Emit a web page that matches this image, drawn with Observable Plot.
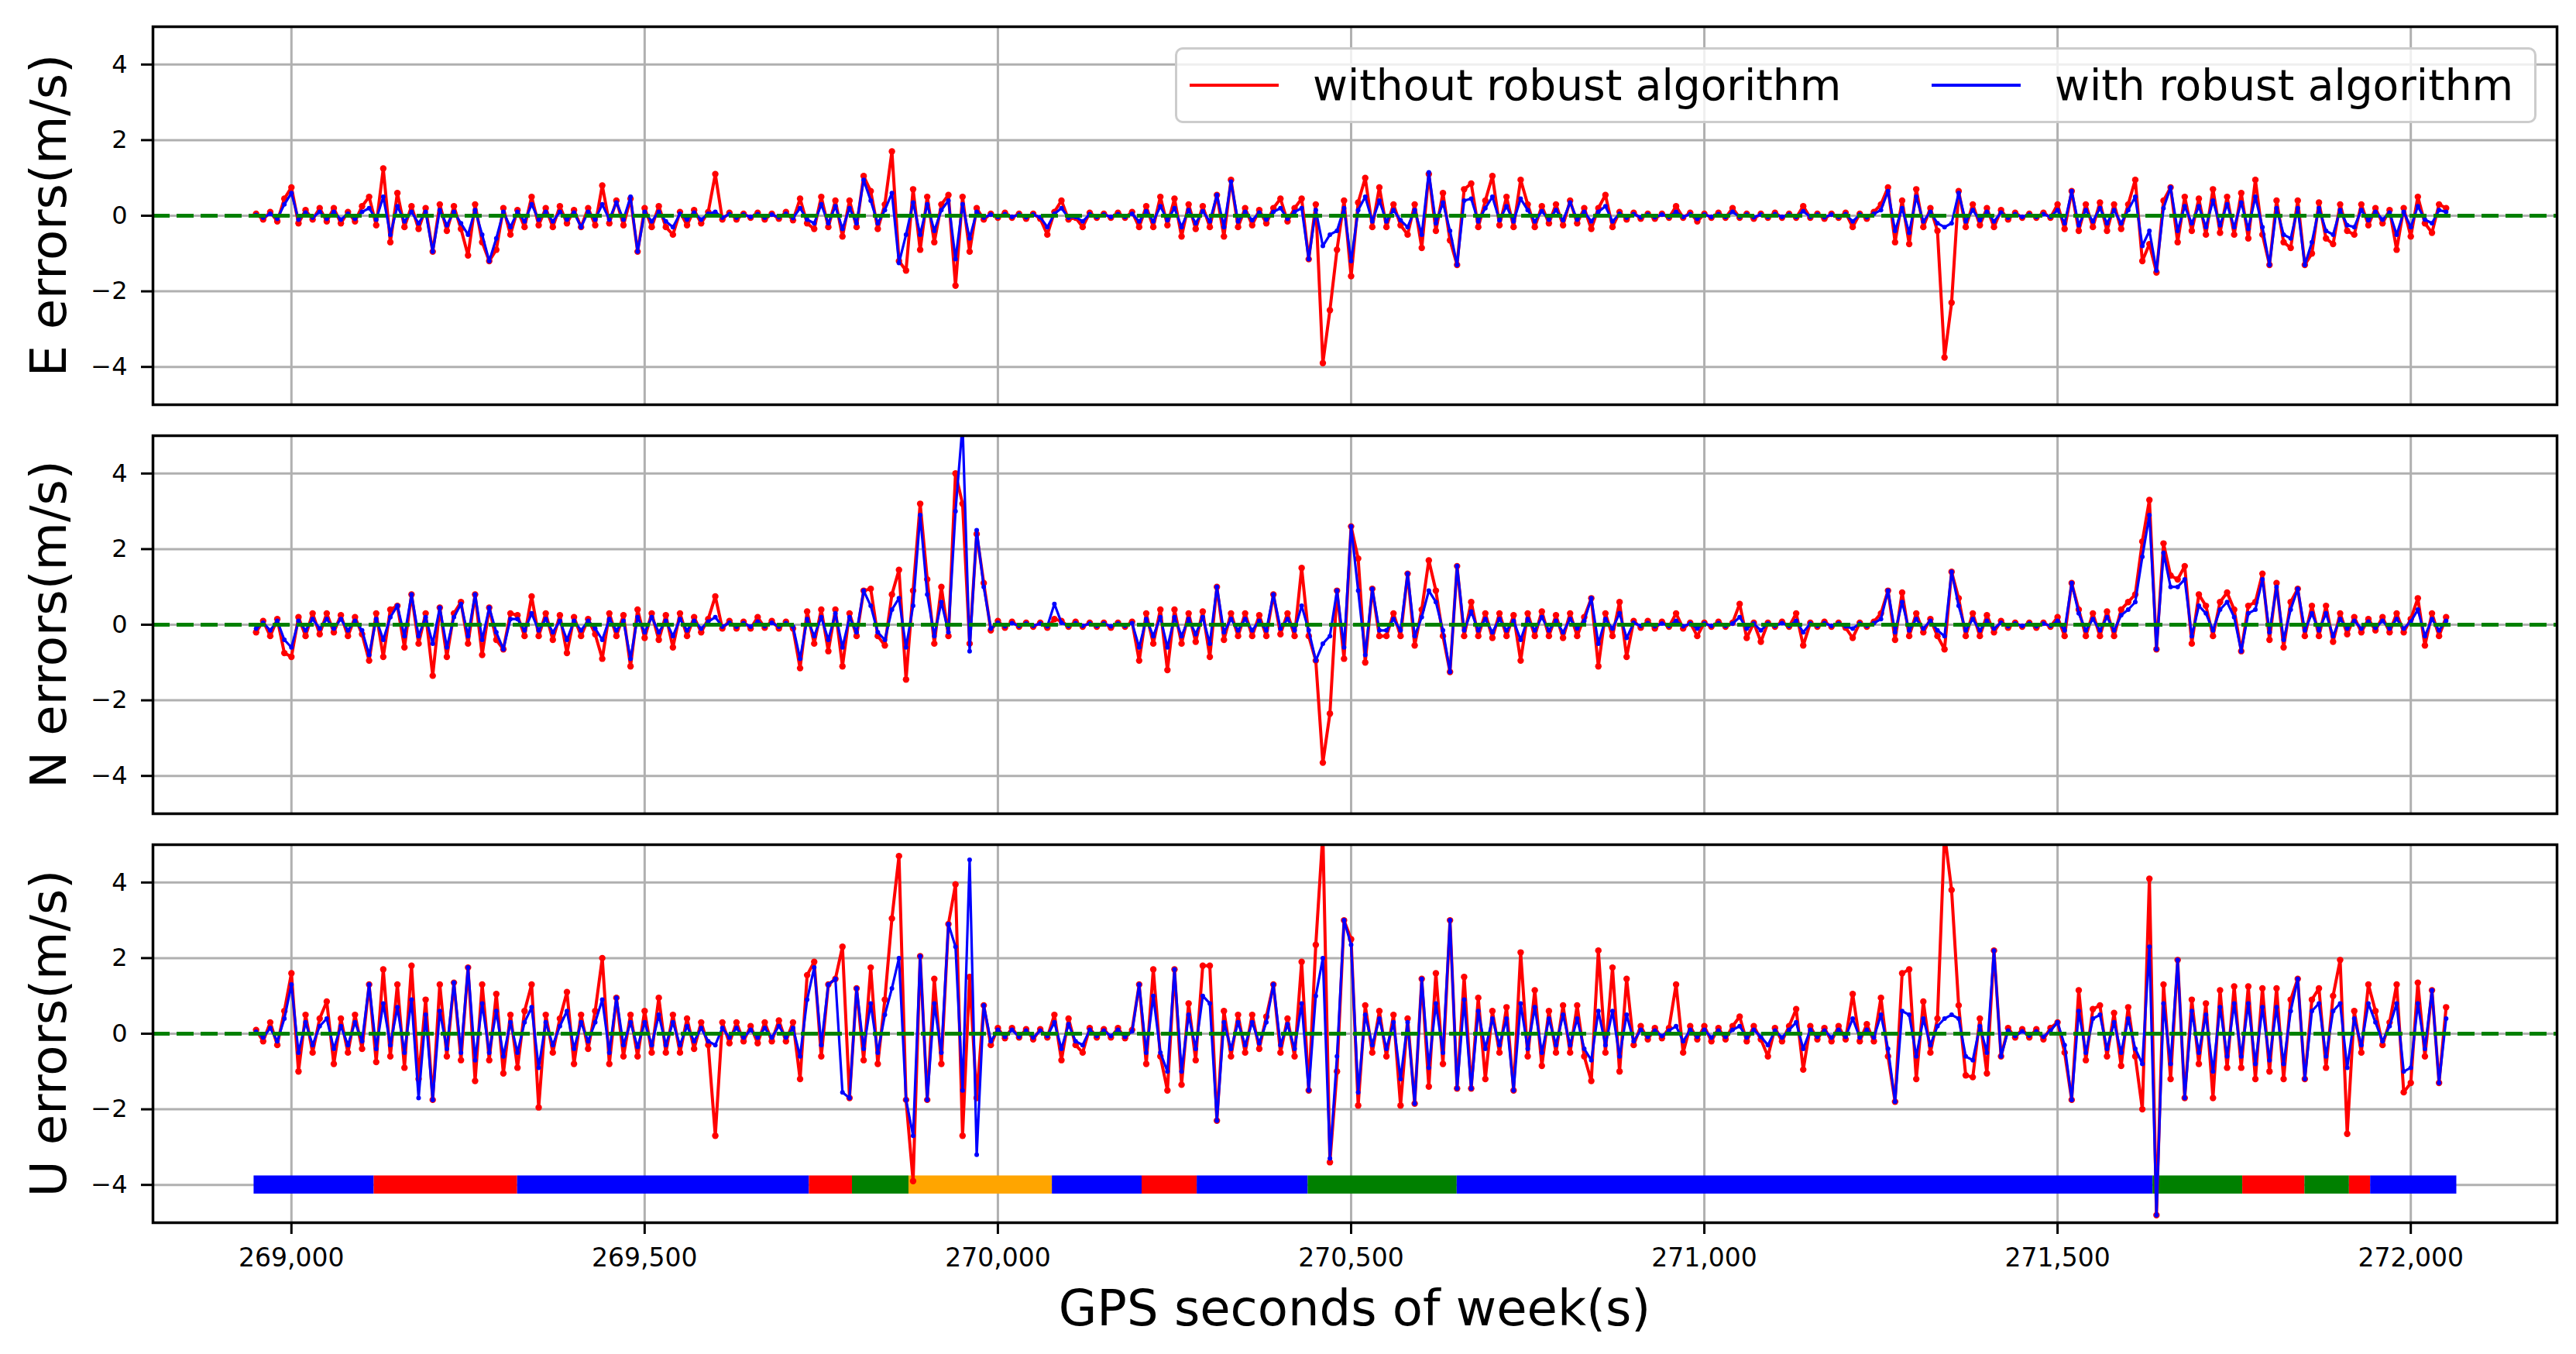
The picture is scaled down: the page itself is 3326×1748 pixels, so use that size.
<!DOCTYPE html>
<html>
<head>
<meta charset="utf-8">
<script src="https://cdn.jsdelivr.net/npm/d3@7"></script>
<script src="https://cdn.jsdelivr.net/npm/@observablehq/plot@0.6"></script>
<style>
  html, body { margin: 0; padding: 0; background: #fff; }
  body { font-family: "DejaVu Sans", sans-serif; }
  #wrap { position: relative; width: 3326px; height: 1748px; overflow: hidden; }
  .panel { position: absolute; left: 0; }
  .ylab { position: absolute; left: 63px; font-size: 64px; line-height: 1; white-space: nowrap;
          transform: translate(-50%, -50%) rotate(-90deg); color: #000; }
  .xlab { position: absolute; left: 0; width: 3498px; text-align: center; font-size: 64px; line-height: 1; color: #000; }
  .legend { position: absolute; left: 1517px; top: 61px; width: 1752px; height: 92px;
            border: 3px solid #cccccc; border-radius: 10px; background: rgba(255,255,255,0.8); }
  .lg-item { position: absolute; top: 0; height: 92px; display: flex; align-items: center; font-size: 55px; color: #000; white-space: nowrap; }
  .lg-sw { display: inline-block; width: 115px; height: 4px; margin-right: 44px; }
</style>
</head>
<body>
<div id="wrap"></div>
<script>
// ---------------- data ----------------
const startTime = 268950;   // first epoch (GPS seconds of week)
const stepSeconds = 10;     // sampling of values

const eWithout = [
  0.05,-0.1,0.1,-0.15,0.45,0.75,-0.2,0.15,-0.1,0.2,
  -0.15,0.2,-0.2,0.1,-0.15,0.25,0.5,-0.25,1.25,-0.7,
  0.6,-0.3,0.25,-0.35,0.2,-0.95,0.3,-0.4,0.25,-0.35,
  -1.05,0.3,-0.7,-1.2,-0.9,0.2,-0.5,0.15,-0.3,0.5,
  -0.25,0.2,-0.3,0.25,-0.2,0.15,-0.3,0.2,-0.25,0.8,
  -0.2,0.4,-0.25,0.45,-0.95,0.2,-0.3,0.25,-0.3,-0.5,
  0.1,-0.25,0.15,-0.2,0.1,1.1,-0.1,0.08,-0.1,0.05,
  -0.05,0.08,-0.1,0.05,-0.08,0.1,-0.12,0.45,-0.2,-0.35,
  0.5,-0.3,0.4,-0.55,0.4,-0.3,1.05,0.65,-0.35,0.3,
  1.7,-1.2,-1.45,0.7,-0.9,0.5,-0.7,0.3,0.55,-1.85,
  0.5,-0.95,0.2,-0.1,0.05,-0.05,0.08,-0.05,0.05,-0.08,
  0.05,-0.08,-0.5,0.1,0.4,-0.1,-0.05,-0.3,0.08,-0.05,
  0.05,-0.05,0.08,-0.05,0.1,-0.3,0.25,-0.3,0.5,-0.25,
  0.45,-0.55,0.3,-0.35,0.25,-0.3,0.55,-0.55,0.95,-0.3,
  0.2,-0.25,0.15,-0.2,0.2,0.45,-0.15,0.2,0.45,-1.15,
  0.3,-3.9,-2.5,-0.9,0.4,-1.6,0.35,1.0,-0.3,0.75,
  -0.3,0.3,-0.25,-0.5,0.3,-0.85,1.1,-0.4,0.6,-0.65,
  -1.3,0.7,0.85,-0.3,0.4,1.05,-0.25,0.5,-0.3,0.95,
  0.3,-0.3,0.25,-0.2,0.3,-0.25,0.4,-0.2,0.2,-0.35,
  0.2,0.55,-0.3,0.1,-0.1,0.08,-0.08,0.05,-0.08,0.05,
  -0.05,0.25,-0.05,0.08,-0.15,0.05,-0.05,0.08,-0.05,0.2,
  -0.05,0.05,-0.08,0.05,-0.05,0.08,-0.05,0.05,-0.05,0.25,
  -0.05,0.05,-0.08,0.05,-0.05,0.08,-0.3,0.05,-0.08,0.1,
  0.3,0.75,-0.7,0.4,-0.75,0.7,-0.3,0.2,-0.4,-3.75,
  -2.3,0.65,-0.3,0.3,-0.25,0.2,-0.3,0.15,-0.1,0.08,
  -0.05,0.05,-0.05,0.08,-0.05,0.3,-0.35,0.65,-0.4,0.3,
  -0.3,0.35,-0.4,0.3,-0.35,0.3,0.95,-1.2,-0.75,-1.5,
  0.4,0.75,-0.7,0.5,-0.4,0.45,-0.5,0.7,-0.45,0.5,
  -0.5,0.6,-0.6,0.95,-0.5,-1.3,0.4,-0.7,-0.85,0.4,
  -1.3,-1.0,0.35,-0.6,-0.75,0.3,-0.4,-0.5,0.3,-0.25,
  0.2,-0.2,0.15,-0.9,0.2,-0.55,0.5,-0.2,-0.45,0.3,
  0.2
];
const eWith = [
  0.02,-0.05,0.05,-0.08,0.3,0.6,-0.1,0.08,-0.05,0.1,
  -0.08,0.1,-0.1,0.05,-0.08,0.1,0.2,-0.1,0.5,-0.5,
  0.25,-0.15,0.1,-0.2,0.1,-0.95,0.15,-0.25,0.1,-0.2,
  -0.5,0.15,-0.5,-1.2,-0.6,0.1,-0.3,0.1,-0.15,0.3,
  -0.1,0.1,-0.15,0.1,-0.1,0.08,-0.3,0.1,-0.1,0.3,
  -0.1,0.35,-0.1,0.5,-0.95,0.1,-0.15,0.1,-0.15,-0.3,
  0.05,-0.1,0.08,-0.1,0.05,0.1,-0.05,0.04,-0.05,0.03,
  -0.03,0.04,-0.05,0.03,-0.04,0.05,-0.06,0.2,-0.1,-0.2,
  0.3,-0.2,0.25,-0.35,0.2,-0.2,0.95,0.4,-0.2,0.15,
  0.6,-1.25,-0.5,0.35,-0.5,0.3,-0.4,0.15,0.4,-1.15,
  0.3,-0.6,0.1,-0.05,0.03,-0.03,0.04,-0.03,0.03,-0.04,
  0.03,-0.04,-0.3,0.05,0.2,-0.05,-0.03,-0.15,0.04,-0.03,
  0.03,-0.03,0.04,-0.03,0.05,-0.15,0.12,-0.15,0.25,-0.12,
  0.2,-0.3,0.15,-0.2,0.12,-0.15,0.55,-0.3,0.9,-0.15,
  0.1,-0.12,0.08,-0.1,0.1,0.2,-0.08,0.1,0.2,-1.15,
  0.15,-0.8,-0.5,-0.4,0.2,-1.2,0.15,0.5,-0.15,0.4,
  -0.15,0.15,-0.12,-0.3,0.15,-0.5,1.15,-0.2,0.35,-0.4,
  -1.3,0.4,0.45,-0.15,0.2,0.5,-0.12,0.25,-0.15,0.45,
  0.15,-0.15,0.12,-0.1,0.15,-0.12,0.35,-0.1,0.1,-0.15,
  0.1,0.25,-0.15,0.05,-0.05,0.04,-0.04,0.03,-0.04,0.03,
  -0.03,0.1,-0.03,0.04,-0.08,0.03,-0.03,0.04,-0.03,0.1,
  -0.03,0.03,-0.04,0.03,-0.03,0.04,-0.03,0.03,-0.03,0.12,
  -0.03,0.03,-0.04,0.03,-0.03,0.04,-0.15,0.03,-0.04,0.05,
  0.15,0.65,-0.4,0.2,-0.45,0.5,-0.15,0.1,-0.2,-0.3,
  -0.2,0.6,-0.15,0.15,-0.12,0.1,-0.15,0.08,-0.05,0.04,
  -0.03,0.03,-0.03,0.04,-0.03,0.15,-0.2,0.65,-0.25,0.15,
  -0.15,0.2,-0.2,0.15,-0.2,0.15,0.5,-0.8,-0.4,-1.45,
  0.2,0.75,-0.4,0.25,-0.2,0.25,-0.3,0.4,-0.25,0.3,
  -0.3,0.35,-0.35,0.5,-0.3,-1.3,0.2,-0.5,-0.6,0.2,
  -1.3,-0.7,0.2,-0.4,-0.5,0.15,-0.25,-0.3,0.15,-0.12,
  0.1,-0.1,0.08,-0.5,0.1,-0.3,0.25,-0.1,-0.2,0.15,
  0.1
];
const nWithout = [
  -0.2,0.1,-0.3,0.15,-0.75,-0.85,0.2,-0.3,0.3,-0.25,
  0.3,-0.2,0.25,-0.3,0.2,-0.25,-0.95,0.3,-0.85,0.4,
  0.5,-0.6,0.8,-0.5,0.3,-1.35,0.45,-0.85,0.3,0.6,
  -0.5,0.8,-0.8,0.45,-0.4,-0.65,0.3,0.25,-0.3,0.75,
  -0.3,0.3,-0.4,0.25,-0.75,0.2,-0.3,0.15,-0.25,-0.9,
  0.3,-0.3,0.25,-1.1,0.4,-0.35,0.3,-0.4,0.25,-0.6,
  0.3,-0.3,0.2,-0.2,0.15,0.75,-0.1,0.1,-0.1,0.08,
  -0.1,0.2,-0.08,0.1,-0.1,0.08,-0.1,-1.15,0.35,-0.5,
  0.4,-0.7,0.4,-1.1,0.3,-0.3,0.9,0.95,-0.3,-0.55,
  0.8,1.45,-1.45,0.9,3.2,1.2,-0.5,1.0,-0.3,4.0,
  3.2,-0.5,2.4,1.1,-0.15,0.1,-0.08,0.08,-0.05,0.05,
  -0.05,0.05,-0.08,0.15,0.1,-0.05,0.08,-0.05,0.05,-0.05,
  0.05,-0.08,0.05,-0.05,0.08,-0.95,0.3,-0.5,0.4,-1.2,
  0.4,-0.5,0.3,-0.45,0.35,-0.85,1.0,-0.4,0.3,-0.3,
  0.3,-0.3,0.25,-0.3,0.8,-0.25,0.3,-0.3,1.5,-0.3,
  -0.95,-3.65,-2.35,0.9,-0.9,2.6,1.75,-1.0,0.95,-0.3,
  -0.3,0.3,-0.3,1.35,-0.55,0.4,1.7,0.9,-0.3,-1.25,
  1.55,-0.3,0.6,-0.3,0.3,-0.35,0.3,-0.3,0.25,-0.95,
  0.3,-0.3,0.35,-0.3,0.25,-0.35,0.3,-0.3,0.2,0.7,
  -1.1,0.3,-0.3,0.6,-0.85,0.1,-0.08,0.1,-0.1,0.08,
  -0.05,0.3,-0.1,0.05,-0.3,0.05,-0.05,0.08,-0.05,0.05,
  0.55,-0.35,0.05,-0.45,0.05,-0.05,0.08,-0.05,0.3,-0.55,
  0.05,-0.05,0.08,-0.05,0.05,-0.08,-0.35,0.05,-0.05,0.08,
  0.3,0.9,-0.4,0.85,-0.3,0.3,-0.2,0.15,-0.3,-0.65,
  1.4,0.7,-0.3,0.3,-0.3,0.25,-0.2,0.1,-0.08,0.05,
  -0.05,0.05,-0.08,0.05,-0.05,0.2,-0.3,1.1,0.4,-0.3,
  0.3,-0.3,0.35,-0.3,0.4,0.6,0.8,2.2,3.3,-0.65,
  2.15,1.3,1.2,1.55,-0.5,0.8,0.5,-0.3,0.6,0.85,
  0.4,-0.7,0.5,0.6,1.35,-0.4,1.1,-0.6,0.6,0.95,
  -0.3,0.5,-0.3,0.5,-0.45,0.3,-0.25,0.2,-0.2,0.15,
  -0.15,0.2,-0.2,0.3,-0.2,0.15,0.7,-0.55,0.3,-0.3,
  0.2
];
const nWith = [
  -0.1,0.05,-0.15,0.1,-0.4,-0.6,0.1,-0.15,0.15,-0.1,
  0.15,-0.1,0.15,-0.15,0.1,-0.15,-0.8,0.15,-0.4,0.2,
  0.5,-0.3,0.8,-0.3,0.2,-0.5,0.45,-0.6,0.2,0.55,
  -0.3,0.8,-0.4,0.45,-0.2,-0.65,0.15,0.15,-0.15,0.3,
  -0.15,0.15,-0.2,0.1,-0.4,0.1,-0.15,0.1,-0.1,-0.4,
  0.15,-0.15,0.1,-0.9,0.2,-0.2,0.2,-0.2,0.1,-0.3,
  0.15,-0.15,0.1,-0.1,0.08,0.2,-0.05,0.05,-0.05,0.04,
  -0.05,0.08,-0.04,0.05,-0.05,0.04,-0.05,-0.9,0.15,-0.3,
  0.2,-0.4,0.3,-0.6,0.2,-0.2,0.9,0.5,-0.2,-0.4,
  0.4,0.7,-0.6,0.5,2.9,0.8,-0.3,0.6,-0.2,3.0,
  5.3,-0.7,2.5,1.0,-0.1,0.05,-0.04,0.04,-0.03,0.03,
  -0.03,0.03,-0.04,0.55,0.05,-0.03,0.04,-0.03,0.03,-0.03,
  0.03,-0.04,0.03,-0.03,0.04,-0.6,0.15,-0.3,0.2,-0.6,
  0.2,-0.3,0.15,-0.25,0.2,-0.5,1.0,-0.2,0.15,-0.15,
  0.15,-0.15,0.1,-0.15,0.8,-0.1,0.15,-0.15,0.5,-0.15,
  -0.95,-0.5,-0.3,0.9,-0.6,2.6,0.9,-0.8,0.95,-0.15,
  -0.15,0.15,-0.15,1.35,-0.3,0.2,0.9,0.6,-0.15,-1.25,
  1.55,-0.15,0.35,-0.15,0.15,-0.2,0.15,-0.15,0.1,-0.4,
  0.15,-0.15,0.2,-0.15,0.1,-0.2,0.15,-0.1,0.1,0.7,
  -0.5,0.15,-0.1,0.3,-0.35,0.05,-0.03,0.04,-0.04,0.03,
  -0.03,0.1,-0.04,0.03,-0.1,0.03,-0.03,0.04,-0.03,0.03,
  0.2,-0.1,0.03,-0.15,0.03,-0.03,0.04,-0.03,0.1,-0.2,
  0.03,-0.03,0.04,-0.03,0.03,-0.04,-0.1,0.03,-0.03,0.04,
  0.15,0.9,-0.2,0.6,-0.15,0.15,-0.1,0.1,-0.15,-0.3,
  1.4,0.5,-0.15,0.15,-0.15,0.1,-0.1,0.05,-0.04,0.03,
  -0.03,0.03,-0.04,0.03,-0.03,0.1,-0.15,1.1,0.3,-0.15,
  0.15,-0.15,0.2,-0.15,0.25,0.4,0.6,1.8,2.9,-0.65,
  1.9,1.0,1.0,1.2,-0.3,0.5,0.3,-0.15,0.4,0.6,
  0.2,-0.7,0.3,0.4,1.2,-0.2,1.0,-0.4,0.4,0.95,
  -0.15,0.3,-0.15,0.3,-0.3,0.15,-0.1,0.1,-0.1,0.08,
  -0.08,0.1,-0.1,0.15,-0.1,0.08,0.4,-0.3,0.15,-0.15,
  0.1
];
const uWithout = [
  0.1,-0.2,0.3,-0.3,0.6,1.6,-1.0,0.5,-0.5,0.4,
  0.85,-0.8,0.4,-0.5,0.5,-0.4,1.3,-0.75,1.7,-0.6,
  1.3,-0.9,1.8,-1.2,0.9,-1.75,1.3,-0.6,1.35,-0.7,
  1.75,-1.25,1.3,-0.7,1.05,-1.05,0.5,-0.9,0.6,1.3,
  -1.95,0.5,-0.5,0.4,1.1,-0.8,0.5,-0.4,0.6,2.0,
  -0.8,0.95,-0.6,0.5,-0.6,0.6,-0.5,0.95,-0.5,0.5,
  -0.5,0.4,-0.4,0.3,-0.3,-2.7,0.3,-0.25,0.3,-0.2,
  0.2,-0.25,0.3,-0.2,0.35,-0.2,0.3,-1.2,1.55,1.9,
  -0.6,1.3,1.45,2.3,-1.7,1.2,-0.7,1.75,-0.8,0.9,
  3.05,4.7,-1.75,-3.9,2.05,-1.75,1.45,-0.8,2.9,3.95,
  -2.7,1.5,-1.7,0.75,-0.3,0.15,-0.12,0.15,-0.1,0.12,
  -0.15,0.12,-0.1,0.5,-0.7,0.4,-0.3,-0.5,0.15,-0.1,
  0.12,-0.1,0.15,-0.12,0.1,1.3,-0.8,1.7,-0.6,-1.5,
  1.7,-1.35,0.8,-0.7,1.8,1.8,-2.3,0.6,-0.6,0.5,
  -0.5,0.5,-0.4,0.45,1.3,-0.5,0.4,-0.6,1.9,-1.5,
  2.35,5.3,-3.4,-1.0,3.0,2.5,-1.9,0.75,-0.5,0.6,
  -0.6,0.5,-1.9,0.4,-1.85,1.45,-1.4,1.6,-0.8,3.0,
  -1.45,1.5,-1.45,0.95,-1.2,0.6,-0.5,0.7,-1.5,2.15,
  -0.6,1.15,-0.85,0.6,-0.5,0.75,-0.5,0.75,-0.6,-1.25,
  2.2,-0.5,1.75,-1.0,1.45,-0.3,0.2,-0.15,0.15,-0.12,
  0.15,1.3,-0.5,0.2,-0.15,0.2,-0.2,0.15,-0.15,0.2,
  0.45,-0.2,0.2,-0.15,-0.6,0.15,-0.2,0.2,0.65,-0.95,
  0.2,-0.15,0.15,-0.2,0.2,-0.15,1.05,-0.2,0.25,-0.2,
  0.95,-0.6,-1.8,1.6,1.7,-1.2,0.85,-0.5,0.4,5.3,
  3.8,0.75,-1.1,-1.15,0.4,-1.05,2.2,-0.6,0.15,-0.1,
  0.12,-0.1,0.12,-0.15,0.15,0.3,-0.5,-1.75,1.15,-0.7,
  0.65,0.75,-0.6,0.55,-0.85,0.7,-0.6,-2.0,4.1,-4.8,
  1.3,-1.2,1.95,-1.7,0.9,-0.8,0.8,-1.7,1.15,-0.9,
  1.25,-0.9,1.25,-1.2,1.2,-1.0,1.2,-1.2,0.9,1.45,
  -1.2,0.9,1.2,-0.9,1.0,1.95,-2.65,0.6,-0.5,1.3,
  0.6,-0.3,0.3,1.3,-1.55,-1.3,1.35,-0.6,1.15,-1.3,
  0.7
];
const uWith = [
  0.05,-0.1,0.15,-0.2,0.4,1.3,-0.5,0.3,-0.3,0.2,
  0.4,-0.4,0.2,-0.3,0.3,-0.2,1.3,-0.4,0.8,-0.3,
  0.7,-0.5,0.9,-1.7,0.5,-1.75,0.6,-0.4,1.35,-0.5,
  1.75,-0.7,0.8,-0.5,0.6,-0.6,0.3,-0.5,0.3,0.7,
  -0.9,0.3,-0.3,0.2,0.6,-0.4,0.3,-0.2,0.3,0.9,
  -0.5,0.95,-0.3,0.3,-0.35,0.3,-0.3,0.5,-0.3,0.3,
  -0.3,0.2,-0.2,0.15,-0.2,-0.3,0.15,-0.1,0.15,-0.1,
  0.1,-0.1,0.15,-0.1,0.2,-0.1,0.15,-0.6,0.9,1.75,
  -0.3,1.3,1.45,-1.55,-1.7,1.2,-0.4,0.8,-0.5,0.5,
  1.2,2.0,-1.75,-2.7,2.05,-1.75,0.8,-0.5,2.9,2.3,
  -1.5,4.6,-3.2,0.75,-0.2,0.1,-0.08,0.1,-0.08,0.08,
  -0.1,0.08,-0.06,0.3,-0.4,0.25,-0.2,-0.3,0.1,-0.06,
  0.08,-0.06,0.1,-0.08,0.06,1.3,-0.5,1.0,-0.5,-1.0,
  1.7,-1.0,0.5,-0.4,1.0,0.8,-2.3,0.3,-0.4,0.3,
  -0.3,0.3,-0.25,0.3,1.3,-0.3,0.25,-0.4,0.8,-1.5,
  1.0,2.0,-3.3,-0.6,3.0,2.35,-1.55,0.5,-0.3,0.4,
  -0.4,0.3,-1.2,0.3,-1.85,1.45,-0.9,0.8,-0.5,3.0,
  -1.45,0.9,-1.45,0.6,-0.4,0.4,-0.3,0.4,-1.5,0.8,
  -0.4,0.7,-0.5,0.4,-0.3,0.5,-0.3,0.4,-0.4,-0.7,
  0.6,-0.3,0.6,-0.6,0.5,-0.2,0.1,-0.08,0.08,-0.06,
  0.08,0.2,-0.2,0.1,-0.08,0.1,-0.1,0.08,-0.08,0.1,
  0.2,-0.1,0.1,-0.08,-0.3,0.08,-0.1,0.1,0.3,-0.4,
  0.1,-0.08,0.08,-0.1,0.1,-0.08,0.4,-0.1,0.1,-0.1,
  0.5,-0.4,-1.8,0.6,0.5,-0.6,0.4,-0.3,0.2,0.4,
  0.5,0.4,-0.6,-0.7,0.2,-0.5,2.2,-0.6,0.08,-0.06,
  0.06,-0.05,0.06,-0.08,0.08,0.3,-0.3,-1.75,0.6,-0.5,
  0.4,0.5,-0.4,0.3,-0.5,0.4,-0.4,-0.8,2.3,-4.8,
  0.8,-0.8,1.95,-1.7,0.6,-0.5,0.5,-1.0,0.7,-0.6,
  0.8,-0.6,0.8,-0.8,0.7,-0.7,0.7,-0.8,0.6,1.45,
  -1.2,0.6,0.8,-0.6,0.6,0.8,-0.9,0.4,-0.3,0.8,
  0.3,-0.2,0.2,0.8,-1.0,-0.9,0.8,-0.4,1.15,-1.3,
  0.4
];

// colour-coded segments drawn at U = -4
const barStart = [268947, 269117, 269320, 269733, 269794, 269874, 270077, 270204, 270282, 270439, 270650, 271635, 271762, 271850, 271913, 271943];
const barEnd   = [269117, 269320, 269733, 269794, 269874, 270077, 270204, 270282, 270439, 270650, 271635, 271762, 271850, 271913, 271943, 272065];
const barColor = ["#0000ff", "#ff0000", "#0000ff", "#ff0000", "#008000", "#ffa500", "#0000ff", "#ff0000", "#0000ff", "#008000", "#0000ff", "#008000", "#ff0000", "#008000", "#ff0000", "#0000ff"];

const xTicks = [269000, 269500, 270000, 270500, 271000, 271500, 272000];
const yTicks = [-4, -2, 0, 2, 4];
const panelLabels = ["E errors(m/s)", "N errors(m/s)", "U errors(m/s)"];
const seriesNames = ["without robust algorithm", "with robust algorithm"];
const seriesColors = ["#ff0000", "#0000ff"];
const xLabel = "GPS seconds of week(s)";

// ---------------- layout ----------------
const W = 3326, ML = 197, MR = 25, MT = 20;
const frameH = 488;
const frameTops = [34, 562, 1090];
const xDomain = [268804, 272207];
const yDomain = [-5, 5];

const wrap = document.getElementById("wrap");
const toRows = vals => vals.map((v, i) => ({t: startTime + i * stepSeconds, v}));
const bars = barStart.map((s, i) => ({start: s, end: barEnd[i], color: barColor[i]}));
const fmtY = d => d < 0 ? "\u2212" + Math.abs(d) : String(d);
const fmtX = d3.format(",");

const panels = [
  {label: panelLabels[0], a: eWithout, b: eWith},
  {label: panelLabels[1], a: nWithout, b: nWith},
  {label: panelLabels[2], a: uWithout, b: uWith}
];

panels.forEach((p, k) => {
  const last = k === panels.length - 1;
  const MB = last ? 1748 - (frameTops[k] + frameH) : 20;
  const H = MT + frameH + MB;
  const ra = toRows(p.a), rb = toRows(p.b);
  const marks = [
    Plot.gridX(xTicks, {stroke: "#b0b0b0", strokeOpacity: 1, strokeWidth: 3}),
    Plot.gridY(yTicks, {stroke: "#b0b0b0", strokeOpacity: 1, strokeWidth: 3})
  ];
  if (last) {
    marks.push(Plot.rect(bars, {x1: "start", x2: "end", y1: -4.24, y2: -3.76, fill: "color"}));
  }
  marks.push(
    Plot.line(ra, {x: "t", y: "v", stroke: seriesColors[0], strokeWidth: 4, strokeLinejoin: "round", clip: true}),
    Plot.dot(ra, {x: "t", y: "v", r: 4.2, fill: seriesColors[0], stroke: "none", clip: true}),
    Plot.line(rb, {x: "t", y: "v", stroke: seriesColors[1], strokeWidth: 3.2, strokeLinejoin: "round", clip: true}),
    Plot.dot(rb, {x: "t", y: "v", r: 3, fill: seriesColors[1], stroke: "none", clip: true}),
    Plot.ruleY([0], {stroke: "#008000", strokeWidth: 5, strokeDasharray: "22,9"}),
    Plot.axisY(yTicks, {tickSize: 15, tickPadding: 18, tickFormat: fmtY, fontSize: 32, strokeWidth: 3, label: null})
  );
  if (last) {
    marks.push(Plot.axisX(xTicks, {tickSize: 15, tickPadding: 18, tickFormat: fmtX, fontSize: 33, strokeWidth: 3, label: null}));
  }
  marks.push(Plot.frame({stroke: "#000", strokeWidth: 3.5}));

  const svg = Plot.plot({
    width: W, height: H,
    marginLeft: ML, marginRight: MR, marginTop: MT, marginBottom: MB,
    x: last ? {domain: xDomain} : {domain: xDomain, axis: null},
    y: {domain: yDomain},
    style: {fontFamily: "DejaVu Sans, sans-serif", background: "transparent", color: "#000", overflow: "visible"},
    marks
  });
  const holder = document.createElement("div");
  holder.className = "panel";
  holder.style.top = (frameTops[k] - MT) + "px";
  holder.appendChild(svg);
  wrap.appendChild(holder);

  const yl = document.createElement("div");
  yl.className = "ylab";
  yl.style.top = (frameTops[k] + frameH / 2) + "px";
  yl.textContent = p.label;
  wrap.appendChild(yl);
});

// x-axis title
const xl = document.createElement("div");
xl.className = "xlab";
xl.style.top = "1657px";
xl.textContent = xLabel;
wrap.appendChild(xl);

// legend
const lg = document.createElement("div");
lg.className = "legend";
const itemLefts = [16, 974];
seriesNames.forEach((name, i) => {
  const it = document.createElement("div");
  it.className = "lg-item";
  it.style.left = itemLefts[i] + "px";
  const sw = document.createElement("span");
  sw.className = "lg-sw";
  sw.style.background = seriesColors[i];
  const tx = document.createElement("span");
  tx.textContent = name;
  it.appendChild(sw);
  it.appendChild(tx);
  lg.appendChild(it);
});
wrap.appendChild(lg);
</script>
</body>
</html>
